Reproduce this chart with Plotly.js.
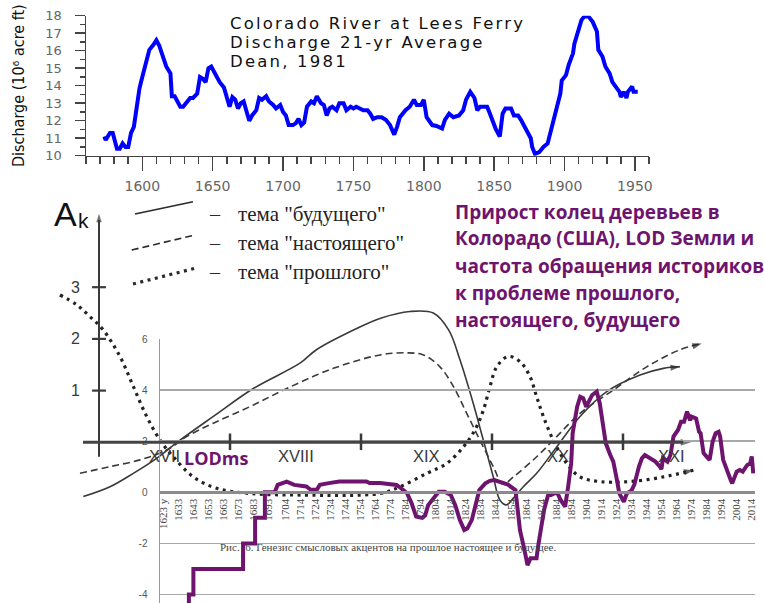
<!DOCTYPE html>
<html>
<head>
<meta charset="utf-8">
<script src="https://cdn.plot.ly/plotly-3.0.1.min.js"></script>
<style>html,body{margin:0;padding:0;background:#fff;}#chart{width:764px;height:603px;}</style>
</head>
<body>
<div id="chart"></div>
<script>
// ---------- Top panel: Colorado River discharge, 21-yr average ----------
const dischargeYears = [1573,1574,1577,1579,1582,1584,1586,1588,1590,1592,1594,1596,1598,1600,1603,1605,1608,1610,1612,1615,1617,1620,1621,1623,1625,1627,1629,1631,1634,1636,1639,1641,1643,1645,1647,1649,1651,1653,1655,1658,1660,1662,1664,1666,1668,1670,1672,1674,1676,1678,1681,1683,1685,1688,1690,1693,1695,1698,1700,1702,1704,1707,1709,1711,1713,1715,1717,1720,1722,1724,1727,1729,1731,1733,1735,1738,1740,1743,1745,1748,1750,1752,1755,1757,1760,1762,1764,1767,1770,1773,1776,1779,1781,1783,1787,1790,1793,1795,1798,1800,1802,1806,1809,1813,1815,1818,1821,1825,1828,1830,1833,1836,1838,1840,1843,1845,1847,1851,1854,1856,1858,1862,1864,1867,1869,1872,1874,1876,1877,1879,1882,1885,1888,1890,1892,1895,1897,1898,1901,1903,1906,1907,1910,1912,1914,1917,1920,1923,1924,1927,1929,1932,1934,1936,1939,1940,1942,1944,1945,1948,1949,1952];
const dischargeValues = [11.1,10.9,11.3,11.3,10.4,10.4,10.7,10.5,10.5,11.3,11.65,12.8,13.85,14.5,15.5,16.05,16.35,16.6,16.3,15.65,15.1,14.7,13.4,13.4,13.1,12.8,12.8,13.0,13.3,13.3,13.55,14.5,14.4,14.2,15.0,15.1,14.8,14.4,14.2,13.9,13.35,12.8,13.35,13.2,12.7,13.0,13.1,12.6,12.0,12.3,12.6,13.3,13.2,13.4,13.1,12.9,12.7,12.9,12.5,12.3,11.75,11.75,11.85,12.1,11.75,11.9,12.8,13.1,13.0,13.4,13.0,12.9,12.3,12.7,12.8,12.6,13.0,13.0,12.6,12.8,12.7,12.8,12.7,12.6,12.6,12.4,12.1,12.2,12.2,12.05,11.75,11.2,11.65,12.2,12.6,12.8,13.2,12.9,12.9,13.2,12.2,11.75,11.7,11.55,12.05,12.4,12.2,12.3,12.6,13.2,13.65,13.3,12.6,12.8,12.8,12.8,12.4,11.55,11.1,12.4,12.7,12.7,12.3,12.3,12.05,11.55,11.3,11.0,10.5,10.1,10.2,10.5,10.7,11.3,12.05,12.8,13.55,14.3,14.6,15.2,15.85,16.4,17.2,17.75,17.95,17.95,17.65,17.1,16.05,15.65,15.1,14.7,14.2,13.95,13.65,13.35,13.65,13.3,13.65,13.95,13.65,13.65];
const topTitleLines = ["Colorado River at Lees Ferry", "Discharge 21-yr Average", "Dean, 1981"];
const topYTitle = "Discharge (10⁶ acre ft)";

// ---------- LOD (ms) series, Excel-style chart ----------
const lodYears = [1640,1640,1643,1643,1676,1676,1684,1684,1690.5,1690.5,1697,1699,1705,1708,1710,1718,1721,1725,1727,1733,1736,1740,1758,1760,1767,1778,1781,1785,1788,1791,1795,1797,1799,1803,1806,1810,1814,1817,1820,1823,1825,1828,1831,1833,1837,1840,1843,1848,1852,1857,1858,1860,1863,1865,1867,1871,1872,1874,1876,1879,1881,1883,1885,1887,1890,1892,1894,1895,1898,1900,1902,1904,1906,1908,1911,1913,1915,1917,1920,1922,1924,1926,1929,1931,1934,1936,1939,1941,1943,1946,1950,1953,1954,1955,1958,1960,1962,1965,1967,1969,1971,1973,1974,1977,1979,1980,1982,1984,1986,1988,1990,1992,1993,1995,1998,2000,2001,2004,2006,2008,2011,2013,2014,2015];
const lodValues = [-4.6,-4,-4,-3,-3,-2,-2,-1,-1,0,0,0.29,0.42,0.36,0.29,0.23,0.1,0.1,0.29,0.36,0.39,0.42,0.42,0.36,0.36,0.29,0.16,-0.04,-0.43,-0.95,-1.0,-0.9,-0.5,-0.17,0.02,0.02,-0.1,-0.5,-1.08,-1.48,-1.42,-1.08,-0.43,0.09,0.35,0.45,0.48,0.38,0.3,0.09,-0.56,-1.48,-2.26,-2.85,-2.58,-2.58,-2.13,-1.35,-0.69,-0.04,-0.1,-0.04,-0.04,-0.3,-0.56,0.22,1.13,2.31,3.35,3.74,3.68,3.35,3.6,3.81,3.94,3.49,2.7,1.92,1.46,1.2,0.61,-0.04,-0.37,-0.04,0.06,0.3,1.0,1.33,1.46,1.33,1.2,1.0,0.9,1.33,1.2,1.46,2.18,2.44,2.76,2.76,3.16,2.82,2.96,2.89,2.37,2.31,1.53,1.4,1.27,1.98,2.31,2.37,2.18,1.27,0.74,0.48,0.35,0.81,0.87,0.81,1.07,1.13,1.4,0.74];
const lodTickYears = [1623,1633,1643,1653,1663,1673,1683,1693,1704,1714,1724,1734,1744,1754,1764,1774,1784,1794,1804,1814,1824,1834,1844,1854,1864,1874,1884,1894,1904,1914,1924,1934,1944,1954,1964,1974,1984,1994,2004,2014];
const lodTickText = ["1623 у","1633","1643","1653","1663","1673","1683","1693","1704","1714","1724","1734","1744","1754","1764","1774","1784","1794","1804","1814","1824","1834","1844","1854","1864","1874","1884","1894","1904","1914","1924","1934","1944","1954","1964","1974","1984","1994","2004","2014"];
const lodYTicks = [-4,-2,0,2,4,6];
const lodYTickText = ["-4","-2","0","2","4","6"];

// ---------- Hand-drawn schematic: A_k of the three themes ----------
const futureYears = [1588,1608.4,1626.2,1644,1661.8,1687.3,1717.8,1753.4,1766,1796.7,1815,1837.4,1855.2,1867,1875.6,1885.7,1893.4,1901,1906.1,1911.2,1916.3,1923.9,1934.1,1949.4,1967.2,1987.6,2013,2030.8,2043.5];
const futureA = [-1.05,-0.86,-0.6,-0.31,0.04,0.5,1.04,1.53,1.79,2.2,2.4,2.53,2.5,2.17,1.59,0.75,0.04,-0.67,-1.12,-1.21,-1.08,-0.86,-0.6,-0.09,0.5,0.98,1.3,1.43,1.46];
const presentYears = [1585.5,1608.4,1631.3,1651.7,1666.9,1687.3,1715.3,1743.3,1778.9,1814.5,1834.9,1847.6,1860.3,1870.5,1880.7,1890.8,1901,1908.4,1916.3,1934.1,1949.4,1967.2,1992.6,2018.1,2043.5,2060.1];
const presentA = [-0.6,-0.47,-0.34,-0.15,0.11,0.37,0.69,1.04,1.43,1.69,1.73,1.69,1.46,1.08,0.56,0.04,-0.47,-0.81,-0.67,-0.28,0.11,0.56,1.01,1.46,1.79,1.91];
const pastYears = [1570.2,1583,1593.1,1603.3,1616,1626.2,1636.4,1646.6,1656.7,1672,1689.8,1715.3,1753.4,1814.5,1829.8,1850.2,1865.4,1878.1,1887,1893.4,1898.5,1903.6,1912.4,1921.4,1929,1934.1,1939.2,1946.8,1957,1967.2,1982.4,2005.3,2030.8,2053.7];
const pastA = [2.85,2.66,2.43,2.17,1.66,1.08,0.5,0.04,-0.28,-0.67,-0.89,-0.99,-1.02,-0.99,-0.86,-0.6,-0.41,-0.09,0.24,0.62,1.08,1.46,1.66,1.56,1.27,0.88,0.5,0.04,-0.41,-0.67,-0.76,-0.76,-0.67,-0.54];
const centuryLabels = ["XVII","XVIII","XIX","XX","XXI"];
const centuryLabelYears = [1650,1750,1850,1950,2037];
const centuryTickYears = [1700,1800,1900,2000];
const akTicks = [1,2,3];
const legendTexts = ['тема "будущего"','тема "настоящего"','тема "прошлого"'];
const purpleLines = ["Прирост колец деревьев в","Колорадо (США), LOD Земли и","частота обращения историков","к проблеме прошлого,","настоящего, будущего"];
const captionText = "Рис.  6. Генезис смысловых акцентов на прошлое настоящее и будущее.";

// ---------- layout helpers ----------
const W = 764, H = 603;
const px = x => x / W;
const py = y => 1 - y / H;
const INK = '#3a3a3a';
const PURPLE = '#6e146e';

// hand-drawn axis: x px = 99 + (yr-1600)*1.31 ; y px = 442.3 - A*51.7
const hx0 = 1600 - 99 / 1.31, hx1 = 1600 + (W - 99) / 1.31;
const hy0 = (442.3 - H) / 51.7, hy1 = 442.3 / 51.7;
// excel chart: x px = 163.3 + (yr-1623)*1.505 ; y px = 492.3 - v*25.55
const ex0 = 1623 - 3.3 / 1.505, ex1 = 1623 + (755 - 163.3) / 1.505;
const eyBottom = -(H - 492.3) / 25.55;

function arrowTrace(xs, ys, color, size) {
  const n = xs.length;
  return {x: [xs[n - 2], xs[n - 1]], y: [ys[n - 2], ys[n - 1]], xaxis: 'x2', yaxis: 'y2', type: 'scatter',
    mode: 'markers', hoverinfo: 'skip',
    marker: {symbol: 'arrow', size: [0, size], angleref: 'previous', color: color, line: {width: 0}}};
}

const traces = [
  {x: dischargeYears, y: dischargeValues, xaxis: 'x', yaxis: 'y', type: 'scatter', mode: 'lines',
   line: {color: '#0000ff', width: 4}, hoverinfo: 'skip'},
  {x: futureYears, y: futureA, xaxis: 'x2', yaxis: 'y2', type: 'scatter', mode: 'lines',
   line: {color: INK, width: 1.6, shape: 'spline'}, hoverinfo: 'skip'},
  {x: presentYears, y: presentA, xaxis: 'x2', yaxis: 'y2', type: 'scatter', mode: 'lines',
   line: {color: INK, width: 1.6, dash: '7px,4px', shape: 'spline'}, hoverinfo: 'skip'},
  {x: pastYears, y: pastA, xaxis: 'x2', yaxis: 'y2', type: 'scatter', mode: 'lines',
   line: {color: '#222', width: 3.2, dash: '3px,4.5px', shape: 'spline'}, hoverinfo: 'skip'},
  arrowTrace(futureYears, futureA, '#222', 10),
  arrowTrace(presentYears, presentA, '#222', 10),
  arrowTrace(pastYears, pastA, '#222', 10),
  arrowTrace([1600, 1600], [4.0, 4.42], INK, 9),
  arrowTrace([2036, 2052], [0, 0], '#444', 11),
  {x: lodYears, y: lodValues, xaxis: 'x3', yaxis: 'y3', type: 'scatter', mode: 'lines',
   line: {color: PURPLE, width: 4}, hoverinfo: 'skip'}
];

const annotations = [];
const shapes = [];

// top title
topTitleLines.forEach((t, i) => annotations.push({
  xref: 'paper', yref: 'paper', x: px(228), y: py(23.5 + i * 18.8), xanchor: 'left', yanchor: 'middle', align: 'left',
  text: t, showarrow: false, font: {family: 'DejaVu Sans, Arial', size: 16.5, color: '#111'}
}));
annotations.push({xref: 'paper', yref: 'paper', x: px(18), y: py(86), textangle: -90,
  xanchor: 'center', yanchor: 'middle', showarrow: false, text: topYTitle,
  font: {family: 'Liberation Sans Narrow, DejaVu Sans Condensed, Arial Narrow, sans-serif', size: 16, color: '#111'}});

// A_k label
annotations.push({xref: 'paper', yref: 'paper', x: px(65), y: py(214), xanchor: 'center', yanchor: 'middle',
  text: 'A', showarrow: false, font: {family: 'Liberation Sans, Arial', size: 34, color: '#111'}});
annotations.push({xref: 'paper', yref: 'paper', x: px(83), y: py(220), xanchor: 'center', yanchor: 'middle',
  text: 'k', showarrow: false, font: {family: 'Liberation Sans, Arial', size: 21, color: '#111'}});

// A_k tick labels and ticks
akTicks.forEach(v => {
  annotations.push({xref: 'x2', yref: 'y2', x: 1581.7, y: v, xanchor: 'center', yanchor: 'middle',
    text: String(v), showarrow: false, font: {family: 'Liberation Sans, Arial', size: 16, color: INK}});
  shapes.push({type: 'line', xref: 'x2', yref: 'y2', x0: 1594.7, x1: 1605.3, y0: v, y1: v,
    line: {color: INK, width: 2.2}, layer: 'above'});
});
// A_k axes
shapes.push({type: 'line', xref: 'x2', yref: 'y2', x0: 1600, x1: 1600, y0: -0.28, y1: 4.3,
  line: {color: INK, width: 2}, layer: 'above'});
shapes.push({type: 'line', xref: 'x2', yref: 'y2', x0: 1587.8, x1: 2046, y0: 0, y1: 0,
  line: {color: '#444', width: 3}, layer: 'above'});
centuryTickYears.forEach(yr => shapes.push({type: 'line', xref: 'x2', yref: 'y2', x0: yr, x1: yr,
  y0: -0.15, y1: 0.17, line: {color: INK, width: 2.5}, layer: 'above'}));
centuryLabels.forEach((t, i) => annotations.push({xref: 'x2', yref: 'y2', x: centuryLabelYears[i], y: -0.265,
  xanchor: 'center', yanchor: 'middle', text: t, showarrow: false,
  font: {family: 'Liberation Sans, Arial', size: 16.5, color: INK}}));

// hand-drawn legend
const legendSamples = [
  {p: [[135, 214], [193, 201.7]], dash: 'solid', w: 1.6},
  {p: [[131.7, 250], [195, 235]], dash: '7px,4px', w: 1.6},
  {p: [[133, 284], [195, 268.3]], dash: '3px,4.5px', w: 3.2}
];
const legendY = [213.5, 243, 271.5];
legendSamples.forEach((s, i) => {
  shapes.push({type: 'line', xref: 'paper', yref: 'paper', x0: px(s.p[0][0]), y0: py(s.p[0][1]),
    x1: px(s.p[1][0]), y1: py(s.p[1][1]), line: {color: '#2a2a2a', width: s.w, dash: s.dash}, layer: 'above'});
  annotations.push({xref: 'paper', yref: 'paper', x: px(215), y: py(legendY[i]), xanchor: 'center', yanchor: 'middle',
    text: '–', showarrow: false, font: {family: 'Liberation Serif, Times New Roman, serif', size: 20, color: '#2a2a2a'}});
  annotations.push({xref: 'paper', yref: 'paper', x: px(236), y: py(legendY[i]), xanchor: 'left', yanchor: 'middle',
    text: legendTexts[i], showarrow: false, font: {family: 'Liberation Serif, Times New Roman, serif', size: 21, color: '#222'}});
});

// purple descriptive text (bold weight set on the font, not with inline tags)
purpleLines.forEach((t, i) => annotations.push({xref: 'paper', yref: 'paper', x: px(453), y: py(211.5 + i * 27),
  xanchor: 'left', yanchor: 'middle', align: 'left', text: t, showarrow: false,
  font: {family: 'Open Sans, Noto Sans, sans-serif', size: 19, weight: 'bold', color: PURPLE}}));
annotations.push({xref: 'paper', yref: 'paper', x: px(216), y: py(458), xanchor: 'center', yanchor: 'middle',
  text: 'LODms', showarrow: false, font: {family: 'Open Sans, Noto Sans, sans-serif', size: 18, weight: 'bold', color: PURPLE}});

// caption of the excel figure
annotations.push({xref: 'paper', yref: 'paper', x: px(218), y: py(546.5), xanchor: 'left', yanchor: 'middle',
  text: captionText, showarrow: false, font: {family: 'Liberation Serif, Times New Roman, serif', size: 11, color: '#444'}});

const hiddenAxis = {visible: false, showticklabels: false, fixedrange: true,
  tickfont: {family: 'Liberation Sans, Arial', size: 10, color: '#444'}};

const layout = {
  width: W, height: H, margin: {l: 0, r: 0, t: 0, b: 0},
  font: {family: 'Liberation Sans, Arial, sans-serif', size: 12, color: '#333'},
  paper_bgcolor: '#ffffff', plot_bgcolor: 'rgba(0,0,0,0)', showlegend: false,
  xaxis: {domain: [px(86), px(649)], range: [1560, 1960], anchor: 'y', showline: true, linecolor: '#444', linewidth: 1.5,
    ticks: 'outside', tick0: 1600, dtick: 50, ticklen: 14, tickwidth: 1.5, tickcolor: '#444',
    minor: {ticks: 'outside', tick0: 1560, dtick: 10, ticklen: 7, tickwidth: 1.5, tickcolor: '#444', showgrid: false},
    showgrid: false, zeroline: false, ticklabelstandoff: 3,
    tickfont: {family: 'DejaVu Sans, Arial', size: 14, color: '#666'}, fixedrange: true},
  yaxis: {domain: [py(155.7), py(15.7)], range: [10, 18], anchor: 'x', showline: true, linecolor: '#444', linewidth: 1.5,
    ticks: 'outside', tick0: 10, dtick: 1, ticklen: 10, tickwidth: 1.5, tickcolor: '#444',
    minor: {ticks: 'outside', dtick: 0.5, ticklen: 5, tickwidth: 1.2, tickcolor: '#444', showgrid: false},
    showgrid: false, zeroline: false, ticklabelstandoff: 10,
    tickfont: {family: 'DejaVu Sans, Arial', size: 13, color: '#666'}, fixedrange: true},
  xaxis2: Object.assign({domain: [0, 1], range: [hx0, hx1], anchor: 'y2'}, hiddenAxis),
  yaxis2: Object.assign({domain: [0, 1], range: [hy0, hy1], anchor: 'x2'}, hiddenAxis),
  xaxis3: {domain: [px(160), px(755)], range: [ex0, ex1], anchor: 'free', position: py(492.3),
    showline: true, linecolor: '#8c8c8c', linewidth: 3, ticks: '', showgrid: false, zeroline: false,
    tickmode: 'array', tickvals: lodTickYears, ticktext: lodTickText, tickangle: -90,
    tickfont: {family: 'Liberation Serif, Times New Roman, serif', size: 11, color: '#444'}, fixedrange: true},
  yaxis3: {domain: [0, py(338.5)], range: [eyBottom, 6.02], anchor: 'x3', showline: true, linecolor: '#9a9a9a', linewidth: 1.5,
    tickmode: 'array', tickvals: lodYTicks, ticktext: lodYTickText, ticks: '', showgrid: true,
    gridcolor: '#a8a8a8', gridwidth: 1.5, zeroline: false, ticklabelstandoff: 9,
    tickfont: {family: 'Liberation Sans, Arial', size: 10, color: '#555'}, fixedrange: true},
  annotations: annotations,
  shapes: shapes
};

Plotly.newPlot('chart', traces, layout, {displayModeBar: false, staticPlot: true}).then(() => {
  // the original title uses a wide, letter-spaced typeface
  document.querySelectorAll('#chart .annotation-text').forEach(el => {
    if (topTitleLines.includes(el.textContent)) el.style.letterSpacing = '2.2px';
  });
});
</script>
</body>
</html>
